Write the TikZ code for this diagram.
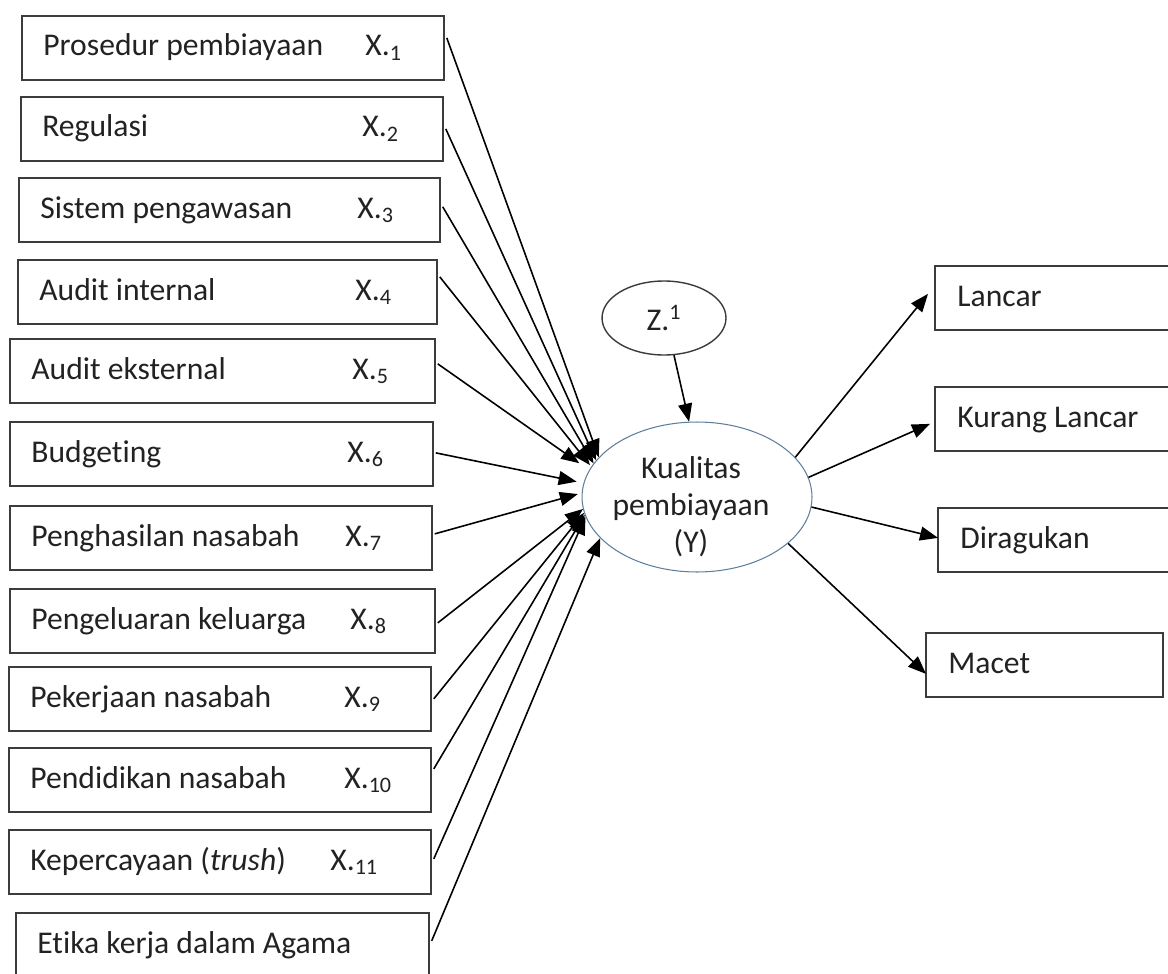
\documentclass[tikz,border=0pt]{standalone}
\usepackage{fontspec}
\setmainfont{Carlito}[Ligatures=NoCommon]
\usetikzlibrary{arrows.meta,positioning,calc,shapes.geometric}
\definecolor{boxcol}{HTML}{3C3C3C}
\definecolor{ellcol}{HTML}{5F7F9C}
\definecolor{txtcol}{HTML}{222222}

\begin{document}
\begin{tikzpicture}[x=0.02cm,y=-0.02cm,>={Triangle[length=0.36cm,width=0.28cm]},
  every node/.style={font=\fontsize{18}{21}\selectfont,text=txtcol},
  varbox/.style={draw=boxcol,line width=1pt,anchor=north west,minimum height=1.28cm,inner sep=0pt},
  lbl/.style={anchor=base west,inner sep=0pt},
  link/.style={->,line width=0.9pt}]
  \useasboundingbox (0,0) rectangle (1168,973);
  \clip (0,0) rectangle (1168,973);
  % left boxes: index/left/top/right/text/x of label/subscript
  \foreach \i/\l/\t/\r/\txt/\xx/\s in {1/21/15/443/Prosedur pembiayaan/365/1,
      2/20/96/442/Regulasi/362/2,
      3/18/177/439/Sistem pengawasan/357/3,
      4/17/259/436/Audit internal/355/4,
      5/9/338/434/Audit eksternal/352/5,
      6/9/421/432/Budgeting/347/6,
      7/9/505/431/Penghasilan nasabah/345/7,
      8/9/588/434/Pengeluaran keluarga/350/8,
      9/8/666/430/Pekerjaan nasabah/344/9,
      10/8/747/430/Pendidikan nasabah/344/10,
      11/8/829/430/{Kepercayaan (\textit{trush})}/330/11} {
    \pgfmathsetmacro{\w}{(\r-\l)*0.02}
    \node[varbox,minimum width=\w cm] (x\i) at (\l,\t) {};
    \node[lbl] (n\i) at (\l+22,\t+41) {\txt};
    \node[lbl] (s\i) at (\xx,\t+41) {X.\textsubscript{\s}};
  }
  \node[varbox,minimum width=8.26cm] (x12) at (15,912) {};
  \node[lbl] (n12) at (37,953) {Etika kerja dalam Agama};
  % the two ellipses
  \node[ellipse,draw=ellcol,line width=0.6pt,minimum width=4.6cm,minimum height=3cm,inner sep=0pt,
    label={[name=Yt,align=center,yshift=-0.2cm,xshift=-0.12cm]center:Kualitas\\pembiayaan\\(Y)}] (Y) at (697,497) {};
  \node[ellipse,draw=boxcol,line width=0.8pt,minimum width=2.48cm,minimum height=1.48cm,
    inner sep=0pt] (Z) at (664,318) {Z.\textsuperscript{1}};
  % right boxes
  \foreach \i/\l/\t/\r/\txt in {1/934/265/1180/Lancar,
      2/934/386/1180/Kurang Lancar,
      3/937/507/1180/Diragukan,
      4/925/632/1162/Macet} {
    \pgfmathsetmacro{\w}{(\r-\l)*0.02}
    \node[varbox,minimum width=\w cm] (o\i) at (\l,\t) {};
    \node[lbl] (m\i) at (\l+23,\t+41) {\txt};
  }
  % arrows into Y
  \foreach \i/\dy/\a/\sh in {1/-10/158/0, 2/0/160/0, 3/-3/162/0, 4/-15/164/0.04,
      5/-7/166/0.24, 6/-1/173/0.14, 7/-4/178/0.08, 8/2/186/0, 9/0/188/0,
      10/-11/189/0, 11/-3/190/0, 12/-4/203/0}
    \draw[link,shorten >=\sh cm] ($(x\i.east)+(2,\dy)$) -- (Y.\a);
  \draw[link] (Z.-75) -- (Y.96);
  % arrows out of Y
  \foreach \i/\a/\dx/\dy in {1/22/-6/-4, 2/10/-4/5, 3/-5/1/-2, 4/-27/1/9}
    \draw[link] (Y.\a) -- ($(o\i.west)+(\dx,\dy)$);
\end{tikzpicture}
\end{document}
